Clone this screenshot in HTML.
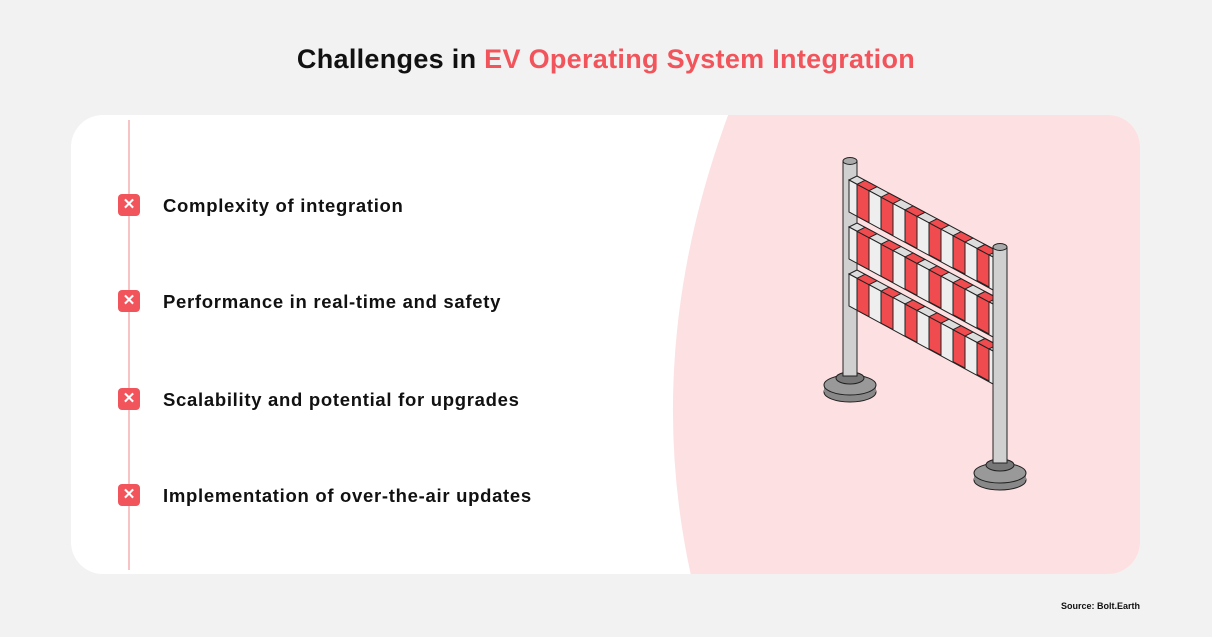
<!DOCTYPE html>
<html><head><style>
body{margin:0;width:1212px;height:637px;background:#f2f2f2;font-family:"Liberation Sans",Arial,sans-serif;position:relative;overflow:hidden}
.t{position:absolute;top:44px;left:0;width:1212px;text-align:center;font-size:27px;font-weight:bold;color:#111;letter-spacing:0.3px}
.t span{color:#f2545b}
.it{position:absolute;left:163px;font-size:18.5px;font-weight:bold;color:#111;letter-spacing:0.7px}
.ic{position:absolute;left:118px;width:22px;height:22px;background:#f2545b;border-radius:4px;color:#fff;font-size:15px;font-weight:bold;text-align:center;line-height:22px}
.src{position:absolute;right:72px;top:601px;font-size:9px;font-weight:bold;color:#111}
</style></head><body>
<div class="t">Challenges in <span>EV Operating System Integration</span></div>
<svg width="1212" height="637" style="position:absolute;left:0;top:0">
<defs><clipPath id="c"><rect x="71" y="115" width="1069" height="459" rx="32"/></clipPath>
<g id="st"><polygon points="857,184.3 869,190.7 869,222.7 857,216.3" fill="#f04b4f" stroke="#222" stroke-width="1"/><polygon points="857,184.3 865,180.3 877,186.7 869,190.7" fill="#f04b4f" stroke="#222" stroke-width="1"/></g>
<g id="band"><polygon points="849,180 857,176 1001,253 993,257" fill="#ddd" stroke="#222" stroke-width="1"/><polygon points="849,180 993,257 993,290 849,212" fill="#eee" stroke="#222" stroke-width="1"/>
<use href="#st"/><use href="#st" transform="translate(24,12.84)"/><use href="#st" transform="translate(48,25.68)"/><use href="#st" transform="translate(72,38.52)"/><use href="#st" transform="translate(96,51.36)"/><use href="#st" transform="translate(120,64.2)"/></g>
</defs>
<g clip-path="url(#c)"><rect x="71" y="115" width="1069" height="459" fill="#fff"/>
<path d="M730,110 Q640,350 692,580 L1150,580 L1150,110Z" fill="#fde0e1"/></g>
<line x1="129" y1="120" x2="129" y2="570" stroke="#e88" stroke-width="1"/>
<ellipse cx="850" cy="392" rx="26" ry="10" fill="#888" stroke="#222"/><rect x="824" y="385" width="52" height="7" fill="#888"/><ellipse cx="850" cy="385" rx="26" ry="10" fill="#999" stroke="#222"/>
<ellipse cx="850" cy="378" rx="14" ry="6" fill="#777" stroke="#222"/>
<rect x="843" y="161" width="14" height="215" fill="#d0d0d0" stroke="#222"/><ellipse cx="850" cy="161" rx="7" ry="3.5" fill="#aaa" stroke="#222"/>
<use href="#band"/><use href="#band" transform="translate(0,47)"/><use href="#band" transform="translate(0,94)"/>
<ellipse cx="1000" cy="480" rx="26" ry="10" fill="#888" stroke="#222"/><rect x="974" y="473" width="52" height="7" fill="#888"/><ellipse cx="1000" cy="473" rx="26" ry="10" fill="#999" stroke="#222"/>
<ellipse cx="1000" cy="465" rx="14" ry="6" fill="#777" stroke="#222"/>
<rect x="993" y="247" width="14" height="216" fill="#d0d0d0" stroke="#222"/><ellipse cx="1000" cy="247" rx="7" ry="3.5" fill="#aaa" stroke="#222"/>
</svg>
<div class="ic" style="top:194px">✕</div><div class="it" style="top:195px">Complexity of integration</div>
<div class="ic" style="top:290px">✕</div><div class="it" style="top:291px">Performance in real-time and safety</div>
<div class="ic" style="top:388px">✕</div><div class="it" style="top:389px">Scalability and potential for upgrades</div>
<div class="ic" style="top:484px">✕</div><div class="it" style="top:485px">Implementation of over-the-air updates</div>
<div class="src">Source: Bolt.Earth</div>
</body></html>
